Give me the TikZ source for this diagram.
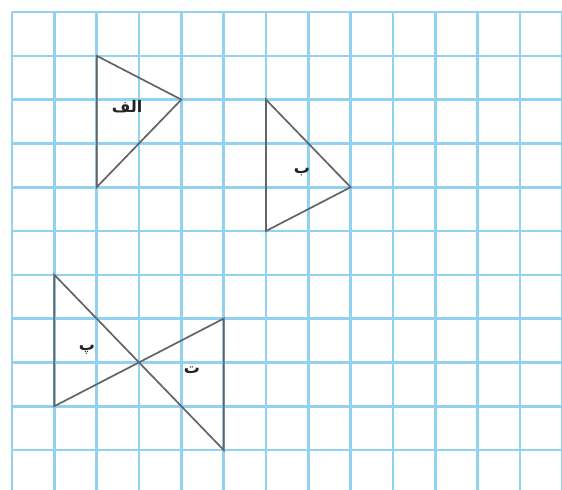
\documentclass[tikz,border=0pt]{standalone}
\usepackage{fontspec}
\newfontfamily\arabicfont[Script=Arabic]{DejaVu Sans}
\TeXXeTstate=1
\definecolor{gridblue}{RGB}{145,210,240}
\definecolor{triline}{RGB}{100,100,100}
\definecolor{lbltext}{RGB}{35,35,35}
\begin{document}
\begin{tikzpicture}[x=42.33pt,y=-43.8pt,
  gridline/.style={gridblue,line width=2.6pt},
  tri/.style={triline,line width=1.7pt,line join=miter},
  lbl/.style={font=\arabicfont\bfseries\fontsize{16}{16}\selectfont,text=lbltext,inner sep=0pt}]
\useasboundingbox (-0.2835,-0.274) rectangle (12.993,10.913);
\fill[white] (-0.2835,-0.274) rectangle (12.993,10.913);
\foreach \i in {0,...,13} \draw[gridline] (\i,0) -- (\i,10.913);
\foreach \j in {0,...,10} \draw[gridline] (0,\j) -- (12.993,\j);
% triangle alef
\coordinate (a1) at (2,1); \coordinate (a2) at (4,2); \coordinate (a3) at (2,4);
\draw[tri] (a1) -- (a2) -- (a3) -- cycle;
\node[lbl] (la) at (2.72,2.17) {\beginR الف\endR};
% triangle be
\coordinate (b1) at (6,2); \coordinate (b2) at (8,4); \coordinate (b3) at (6,5);
\draw[tri] (b1) -- (b2) -- (b3) -- cycle;
\node[lbl] (lb) at (6.85,3.65) {\beginR ب\endR};
% triangle pe
\coordinate (p1) at (1,6); \coordinate (p2) at (3,8); \coordinate (p3) at (1,9);
\draw[tri] (p1) -- (p2) -- (p3) -- cycle;
\node[lbl] (lp) at (1.77,7.72) {\beginR پ\endR};
% triangle te
\coordinate (t1) at (5,7); \coordinate (t3) at (5,10);
\draw[tri] (t1) -- (p2) -- (t3) -- cycle;
\node[lbl] (lt) at (4.25,8.17) {\beginR ت\endR};
\end{tikzpicture}
\end{document}
